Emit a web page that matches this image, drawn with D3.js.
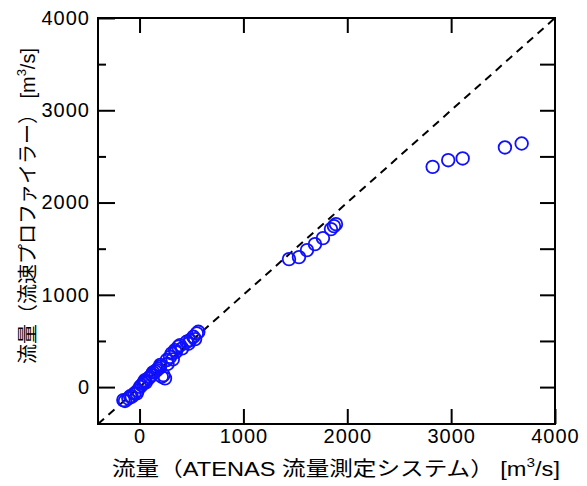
<!DOCTYPE html>
<html>
<head>
<meta charset="utf-8">
<script src="https://cdn.jsdelivr.net/npm/d3@7"></script>
<style>
  body { margin: 0; background: #fff; }
  text { font-family: "Liberation Sans", Arial, "Noto Sans CJK JP", sans-serif; }
</style>
</head>
<body>
<div id="chart"></div>
<script>
// flow from ATENAS (x) vs flow from velocity profiler (y), m3/s
const atenas = [
  -156, -140, -108, -90, -75, -50, -27, -20, 5, 20, 37, 45, 53, 60, 85, 100,
  117, 130, 150, 166, 180, 197, 200, 214, 230, 245, 262, 270, 294, 310, 320,
  342, 350, 373, 390, 410, 454, 470, 486, 518, 535, 551, 566,
  1439, 1535, 1612, 1689, 1766, 1843, 1872, 1891,
  2822, 2972, 3111, 3518, 3679
];
const profiler = [
  -141, -150, -122, -100, -105, -70, -68, -40, 3, 20, 40, 60, 76, 50, 94, 110,
  130, 160, 170, 184, 200, 220, 240, 112, 130, 94, 293, 250, 328, 365, 300,
  401, 380, 437, 455, 420, 491, 470, 509, 545, 520, 582, 599,
  1387, 1408, 1484, 1549, 1614, 1712, 1744, 1766,
  2387, 2459, 2478, 2597, 2640
];
const domainMin = -400, domainMax = 4000;
const majorTicks = [0, 1000, 2000, 3000, 4000];
const minorTicks = [500, 1500, 2500, 3500];
const halfTicks = [0, 500, 1000, 1500, 2000, 2500, 3000, 3500];

const width = 587, height = 486;
const margin = {left: 98, right: 32, top: 18, bottom: 62};

const svg = d3.select('#chart')
  .append('svg')
  .attr('width', width)
  .attr('height', height);

const x = d3.scaleLinear()
  .domain([domainMin, domainMax])
  .range([margin.left, width - margin.right]);

const y = d3.scaleLinear()
  .domain([domainMin, domainMax])
  .range([height - margin.bottom, margin.top]);

const data = atenas.map((d, i) => ({x: d, y: profiler[i]}));
const fmt = d3.format('d');

// axes (ticks point inwards)
svg.append('g')
  .attr('transform', `translate(0, ${y(domainMin)})`)
  .call(d3.axisBottom(x).tickValues(majorTicks).tickFormat(fmt)
    .tickSizeInner(-15).tickSizeOuter(0).tickPadding(5));

svg.append('g')
  .attr('transform', `translate(${x(domainMin)}, 0)`)
  .call(d3.axisLeft(y).tickValues(majorTicks).tickFormat(fmt)
    .tickSizeInner(-17).tickSizeOuter(0).tickPadding(8));

svg.append('g')
  .attr('transform', `translate(${x(domainMin)}, 0)`)
  .call(d3.axisLeft(y).tickValues(minorTicks).tickSizeInner(-8).tickSizeOuter(0).tickFormat(''));

svg.append('g')
  .attr('transform', `translate(0, ${y(domainMax)})`)
  .call(d3.axisTop(x).tickValues(majorTicks.slice(0, 4)).tickSizeInner(-15).tickSizeOuter(0).tickFormat(''));

svg.append('g')
  .attr('transform', `translate(${x(domainMax)}, 0)`)
  .call(d3.axisRight(y).tickValues(halfTicks).tickSizeInner(-15).tickSizeOuter(0).tickFormat(''));

svg.selectAll('.domain').remove();
svg.selectAll('.tick line').attr('stroke', '#000').attr('stroke-width', 2);
svg.selectAll('.tick text')
  .attr('fill', '#000')
  .style('font-size', '20px')
  .style('letter-spacing', '1px');

// frame
svg.append('rect')
  .attr('x', x(domainMin))
  .attr('y', y(domainMax))
  .attr('width', x(domainMax) - x(domainMin))
  .attr('height', y(domainMin) - y(domainMax))
  .attr('fill', 'none')
  .attr('stroke', '#000')
  .attr('stroke-width', 2);

// 1:1 line
svg.append('line')
  .attr('x1', x(domainMin)).attr('y1', y(domainMin))
  .attr('x2', x(domainMax)).attr('y2', y(domainMax))
  .attr('stroke', '#000')
  .attr('stroke-width', 2)
  .attr('stroke-dasharray', '8,6');

svg.append('g')
  .selectAll('circle')
  .data(data)
  .enter()
  .append('circle')
    .attr('cx', d => x(d.x))
    .attr('cy', d => y(d.y))
    .attr('r', 6.3)
    .attr('fill', 'none')
    .attr('stroke', '#1010ff')
    .attr('stroke-width', 1.8);

// titles
const xTitle = svg.append('text')
  .attr('x', 112)
  .attr('y', 476)
  .attr('textLength', 448)
  .attr('lengthAdjust', 'spacingAndGlyphs')
  .style('font-size', '20px')
  .attr('fill', '#000');
xTitle.append('tspan').text('流量（ATENAS 流量測定システム） [m');
xTitle.append('tspan').attr('dy', -9).style('font-size', '13px').text('3');
xTitle.append('tspan').attr('dy', 9).text('/s]');

const yTitle = svg.append('text')
  .attr('transform', 'translate(35, 364) rotate(-90)')
  .attr('textLength', 316)
  .attr('lengthAdjust', 'spacingAndGlyphs')
  .style('font-size', '20px')
  .attr('fill', '#000');
yTitle.append('tspan').text('流量（流速プロファイラー） [m');
yTitle.append('tspan').attr('dy', -9).style('font-size', '13px').text('3');
yTitle.append('tspan').attr('dy', 9).text('/s]');
</script>
</body>
</html>
